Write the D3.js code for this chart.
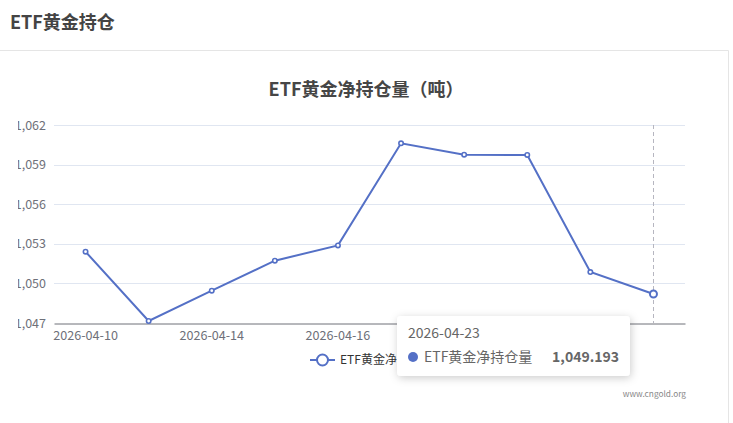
<!DOCTYPE html>
<html>
<head>
<meta charset="utf-8">
<script src="https://cdn.jsdelivr.net/npm/d3@7"></script>
<style>
  body { margin: 0; background: #fff; }
  svg { display: block; font-family: "Noto Sans CJK SC", "Noto Sans", sans-serif; }
</style>
</head>
<body>
<script>
// data
let dates = ['2026-04-10', '2026-04-13', '2026-04-14', '2026-04-15', '2026-04-16',
             '2026-04-17', '2026-04-20', '2026-04-21', '2026-04-22', '2026-04-23'];
let holdings = [1052.40, 1047.15, 1049.45, 1051.72, 1052.88,
                1060.61, 1059.75, 1059.73, 1050.86, 1049.193];
let yTicks = [1047, 1050, 1053, 1056, 1059, 1062];
let seriesName = 'ETF黄金净持仓量';

let width = 733, height = 423;
let plotLeft = 54, plotRight = 685, plotTop = 125, plotBottom = 323;
let lineColor = '#5470c6';

let svg = d3.select('body').append('svg')
  .attr('width', width)
  .attr('height', height);

let defs = svg.append('defs');
defs.append('clipPath').attr('id', 'clip')
  .append('rect').attr('x', 18).attr('y', 50).attr('width', 710).attr('height', 373);
let shadow = defs.append('filter').attr('id', 'shadow')
  .attr('x', '-20%').attr('y', '-30%').attr('width', '140%').attr('height', '170%');
shadow.append('feDropShadow').attr('dx', 1).attr('dy', 2).attr('stdDeviation', 4)
  .attr('flood-color', '#000').attr('flood-opacity', 0.2);

// page header + panel border
svg.append('text')
  .attr('x', 10).attr('y', 29)
  .attr('font-size', 18).attr('font-weight', 'bold').attr('fill', '#444')
  .text('ETF黄金持仓');
svg.append('path')
  .attr('d', 'M0,50.5H728.5V423')
  .attr('fill', 'none').attr('stroke', '#e5e5e5');

svg.append('text')
  .attr('x', 366).attr('y', 96)
  .attr('text-anchor', 'middle')
  .attr('font-size', 18).attr('font-weight', 'bold').attr('fill', '#464646')
  .text('ETF黄金净持仓量（吨）');

let chart = svg.append('g').attr('clip-path', 'url(#clip)');

let xScale = d3.scaleBand().domain(dates).range([plotLeft, plotRight]);
let yScale = d3.scaleLinear().domain([1047, 1062]).range([plotBottom, plotTop]);
let cx = d => xScale(d) + xScale.bandwidth() / 2;

// grid lines
chart.append('g').selectAll('line')
  .data(yTicks.slice(1))
  .enter().append('line')
  .attr('x1', plotLeft).attr('x2', plotRight)
  .attr('y1', d => Math.round(yScale(d)) + 0.5)
  .attr('y2', d => Math.round(yScale(d)) + 0.5)
  .attr('stroke', '#e0e6f1');

// y axis labels
let yAxis = d3.axisLeft(yScale).tickValues(yTicks).tickSize(0).tickPadding(8)
  .tickFormat(d3.format(',d'));
let yg = chart.append('g').attr('transform', `translate(${plotLeft},0)`).call(yAxis);
yg.select('.domain').remove();
yg.selectAll('text').attr('font-size', 12.5).attr('fill', '#6e7079')
  .attr('font-family', '"Noto Sans CJK SC", sans-serif');

// axis pointer
chart.append('line')
  .attr('x1', Math.round(cx(dates[9])) + 0.5).attr('x2', Math.round(cx(dates[9])) + 0.5)
  .attr('y1', plotTop).attr('y2', plotBottom)
  .attr('stroke', '#b6b6c0').attr('stroke-dasharray', '4,3');

// x axis (every other label; the ones under the tooltip stay hidden behind it)
let xAxis = d3.axisBottom(xScale).tickSize(0).tickPadding(8)
  .tickFormat((d, i) => i % 2 === 0 && i < 6 ? d : '');
let xg = chart.append('g').attr('transform', `translate(0,${Math.round(plotBottom) + 0.5})`).call(xAxis);
xg.select('.domain').attr('stroke', '#6e7079');
xg.selectAll('text').attr('font-size', 12.6).attr('fill', '#6e7079')
  .attr('font-family', '"Noto Sans CJK SC", sans-serif');

// line + symbols
let line = d3.line().x((d, i) => cx(dates[i])).y(d => yScale(d));
chart.append('path')
  .datum(holdings)
  .attr('d', line)
  .attr('fill', 'none').attr('stroke', lineColor).attr('stroke-width', 2);
chart.append('g').selectAll('circle')
  .data(holdings)
  .enter().append('circle')
  .attr('cx', (d, i) => cx(dates[i]))
  .attr('cy', d => yScale(d))
  .attr('r', (d, i) => i === holdings.length - 1 ? 3.5 : 2.2)
  .attr('fill', '#fff').attr('stroke', lineColor).attr('stroke-width', (d, i) => i === holdings.length - 1 ? 2 : 1.6);

// legend
let lg = svg.append('g').attr('transform', 'translate(310,360)');
lg.append('line').attr('x1', 0).attr('x2', 25).attr('stroke', lineColor).attr('stroke-width', 2);
lg.append('circle').attr('cx', 12.5).attr('r', 5.5).attr('fill', '#fff').attr('stroke', lineColor).attr('stroke-width', 2);
lg.append('text').attr('x', 30).attr('y', 4).attr('font-size', 12).attr('fill', '#333').text(seriesName);

// watermark
svg.append('text')
  .attr('x', 686).attr('y', 397).attr('text-anchor', 'end')
  .attr('font-size', 8.3).attr('fill', '#888')
  .text('www.cngold.org');

// tooltip for the last point
let last = holdings.length - 1;
let tip = svg.append('g').attr('transform', 'translate(397,316)');
tip.append('rect')
  .attr('width', 233).attr('height', 60).attr('rx', 4)
  .attr('fill', '#fff').attr('filter', 'url(#shadow)');
tip.append('text').attr('x', 11).attr('y', 22)
  .attr('font-size', 14).attr('fill', '#666').text(dates[last]);
tip.append('circle').attr('cx', 16).attr('cy', 41).attr('r', 5).attr('fill', lineColor);
tip.append('text').attr('x', 27).attr('y', 46)
  .attr('font-size', 14).attr('fill', '#666').text(seriesName);
tip.append('text').attr('x', 222).attr('y', 46).attr('text-anchor', 'end')
  .attr('font-size', 14).attr('font-weight', 'bold').attr('fill', '#666')
  .text(d3.format(',.3f')(holdings[last]));
</script>
</body>
</html>
